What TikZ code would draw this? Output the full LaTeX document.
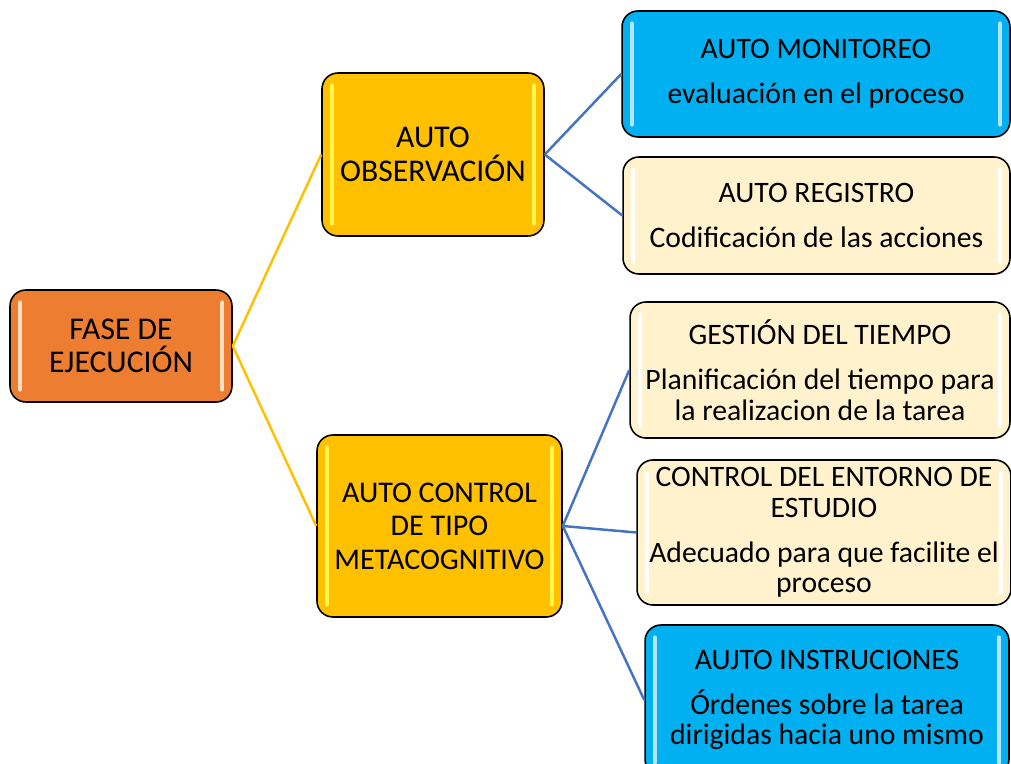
\documentclass[tikz,border=0pt]{standalone}
\usepackage{fontspec}
\setmainfont{Carlito}
\definecolor{faseorange}{HTML}{ED7D31}
\definecolor{autogold}{HTML}{FFC000}
\definecolor{autoblue}{HTML}{00B0F0}
\definecolor{autocream}{HTML}{FFF2CC}
\definecolor{linkblue}{HTML}{4472C4}
\begin{document}
\begin{tikzpicture}[x=0.02cm,y=-0.02cm,
    box/.style={draw=black, line width=0.9pt, rounded corners=9pt, align=center, inner sep=2pt},
    strips/.style={path picture={
        \draw[#1, line width=2.2pt, line cap=round]
          ([xshift=5.5pt,yshift=-7pt]path picture bounding box.north west) -- ([xshift=5.5pt,yshift=7pt]path picture bounding box.south west)
          ([xshift=-5.5pt,yshift=-7pt]path picture bounding box.north east) -- ([xshift=-5.5pt,yshift=7pt]path picture bounding box.south east);}},
    mainbox/.style={box, font=\fontsize{18}{19}\selectfont},
    subbox/.style={box, font=\fontsize{16.9}{17.5}\selectfont},
    fasebox/.style={mainbox, fill=faseorange, strips={orange!25}},
    goldbox/.style={mainbox, fill=autogold, strips={yellow!70!white}},
    bluebox/.style={subbox, fill=autoblue, strips={cyan!30!white}},
    creambox/.style={subbox, fill=autocream, strips=white},
    yellowlink/.style={autogold, line width=1.4pt},
    bluelink/.style={linkblue, line width=1.4pt}]
    \clip (0,0) rectangle (1011,764);
    % left column
    \node[fasebox, minimum width=4.44cm, minimum height=2.24cm] (fase) at (121,346) {FASE DE\\EJECUCIÓN};
    % middle column
    \node[goldbox, minimum width=4.44cm, minimum height=3.26cm] (observ) at (433,154.5) {AUTO\\OBSERVACIÓN};
    \node[goldbox, font=\fontsize{17.1}{19}\selectfont, minimum width=4.9cm, minimum height=3.64cm] (control) at (439.5,526) {AUTO CONTROL\\DE TIPO\\METACOGNITIVO};
    % right column
    \node[bluebox, minimum width=7.76cm, minimum height=2.52cm] (monitor) at (816,74) {AUTO MONITOREO\\[8pt]evaluación en el proceso};
    \node[creambox, minimum width=7.74cm, minimum height=2.34cm] (registro) at (816.5,215.5) {AUTO REGISTRO\\[8pt]Codificación de las acciones};
    \node[creambox, minimum width=7.6cm, minimum height=2.72cm] (tiempo) at (820,370) {GESTIÓN DEL TIEMPO\\[8pt]Planificación del tiempo para\\la realizacion de la tarea};
    \node[creambox, minimum width=7.48cm, minimum height=2.9cm] (entorno) at (824,532.5) {CONTROL DEL ENTORNO DE\\ESTUDIO\\[8pt]Adecuado para que facilite el\\proceso};
    \node[bluebox, minimum width=7.28cm, minimum height=3cm] (instruc) at (827,700) {AUJTO INSTRUCIONES\\[8pt]Órdenes sobre la tarea\\dirigidas hacia uno mismo};
    % links
    \draw[yellowlink] (fase.east) -- (observ.west);
    \draw[yellowlink] (fase.east) -- (control.west);
    \draw[bluelink] (observ.east) -- (monitor.west);
    \draw[bluelink] (observ.east) -- (registro.west);
    \draw[bluelink] (control.east) -- (tiempo.west);
    \draw[bluelink] (control.east) -- (entorno.west);
    \draw[bluelink] (control.east) -- (instruc.west);
\end{tikzpicture}
\end{document}
